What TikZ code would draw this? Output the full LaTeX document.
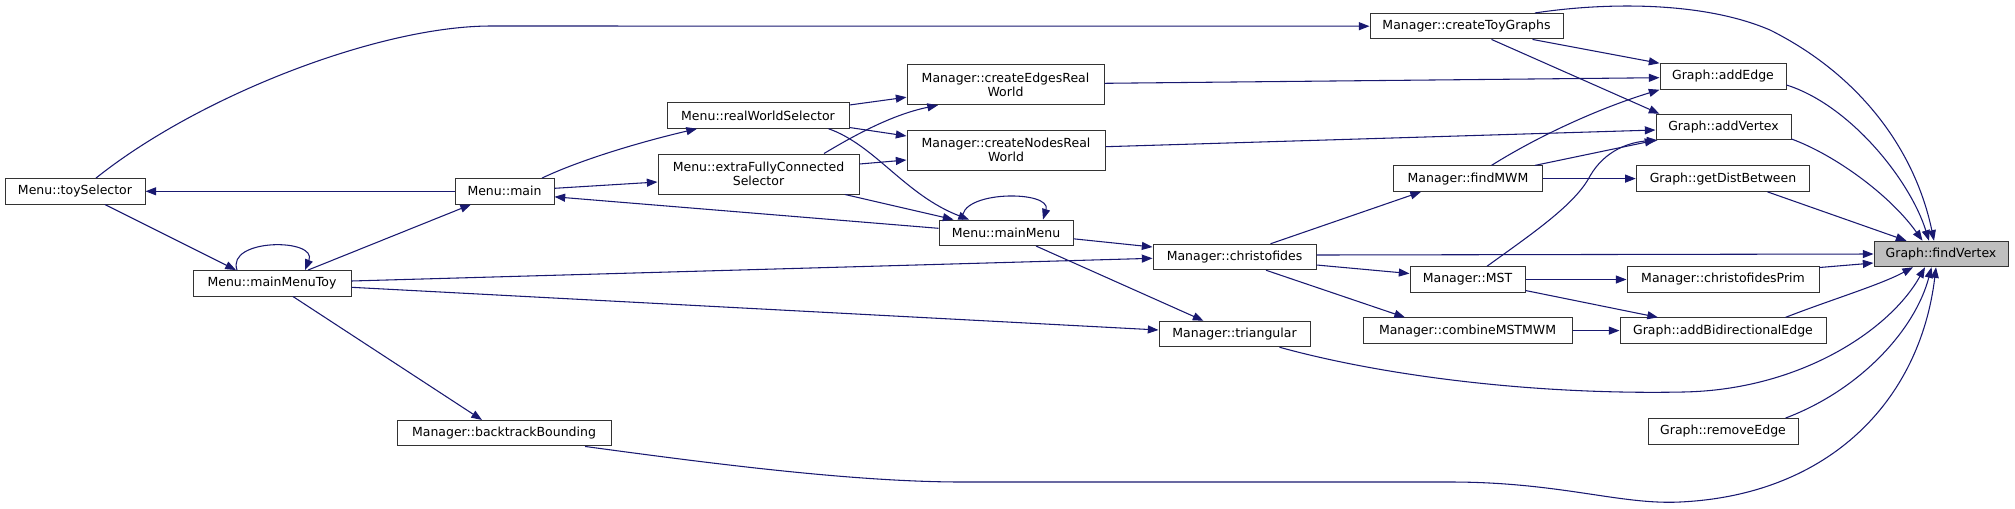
\documentclass[tikz,border=0pt]{standalone}
\usepackage{fontspec}
\setmainfont{DejaVu Sans}
\usetikzlibrary{arrows.meta}
\definecolor{edgec}{HTML}{191970}
\definecolor{boxc}{HTML}{333333}
\begin{document}
\begin{tikzpicture}[x=0.75pt,y=-0.75pt,
  box/.style={draw=boxc,line width=0.75pt,fill=white,inner sep=0pt,minimum height=19.1pt,
    font=\fontsize{9.375}{10.2}\selectfont,align=center},
  box2/.style={box,minimum height=30pt},
  e/.style={draw=edgec,line width=0.8pt,-{Triangle[length=8pt,width=6pt]}}]
\useasboundingbox (0,0) rectangle (2015,508);
% nodes
\node[box,minimum width=105pt] (toy) at (75,191.3) {Menu::toySelector};
\node[box,minimum width=74.25pt] (main) at (504.5,191.3) {Menu::main};
\node[box,minimum width=118.5pt] (mmt) at (272,283.3) {Menu::mainMenuToy};
\node[box,minimum width=160.5pt] (bb) at (504,433.2) {Manager::backtrackBounding};
\node[box,minimum width=136.5pt] (rws) at (758,115.5) {Menu::realWorldSelector};
\node[box2,minimum width=150.75pt] (efc) at (758.5,174) {Menu::extraFullyConnected\\Selector};
\node[box,minimum width=100.5pt] (mm) at (1006,232.8) {Menu::mainMenu};
\node[box2,minimum width=147.75pt] (cerw) at (1005.5,84.7) {Manager::createEdgesReal\\World};
\node[box2,minimum width=148.5pt] (cnrw) at (1006,150) {Manager::createNodesReal\\World};
\node[box,minimum width=122.25pt] (chr) at (1234.5,257) {Manager::christofides};
\node[box,minimum width=113.25pt] (tri) at (1234.5,334) {Manager::triangular};
\node[box,minimum width=144.75pt] (ctg) at (1466.5,26.2) {Manager::createToyGraphs};
\node[box,minimum width=111.4pt] (mwm) at (1468,178.6) {Manager::findMWM};
\node[box,minimum width=86.25pt] (mst) at (1467.5,279.5) {Manager::MST};
\node[box,minimum width=156.75pt] (cmb) at (1467.5,330.6) {Manager::combineMSTMWM};
\node[box,minimum width=94.5pt] (ae) at (1723,76.5) {Graph::addEdge};
\node[box,minimum width=101.25pt] (av) at (1723.5,127) {Graph::addVertex};
\node[box,minimum width=130.1pt] (gdb) at (1723,178.6) {Graph::getDistBetween};
\node[box,minimum width=144pt] (cp) at (1723,279.5) {Manager::christofidesPrim};
\node[box,minimum width=154.5pt] (abe) at (1723,330.6) {Graph::addBidirectionalEdge};
\node[box,minimum width=112.5pt] (re) at (1723,431.3) {Graph::removeEdge};
\node[box,minimum width=100.5pt,fill=black!25] (fv) at (1941,254) {Graph::findVertex};
% edges
\draw[e] (main.west) -- (toy.east);
\draw[e] ([shift={(21,0)}]toy.north) .. controls (200,95) and (380,26) .. (491,26) -- (ctg.west);
\draw[e] ([shift={(30,0)}]toy.south) -- ([shift={(-36,0)}]mmt.north);
\draw[e] ([shift={(-35,0)}]mmt.north) .. controls (226,238) and (318,238) .. ([shift={(33,0)}]mmt.north);
\draw[e] ([shift={(36,0)}]mmt.north) -- ([shift={(-33.5,0)}]main.south);
\draw[e] ([shift={(37.5,0)}]main.north) .. controls (580,160) and (640,142) .. ([shift={(-61,0)}]rws.south);
\draw[e] ([shift={(0,-3)}]main.east) -- ([shift={(0,8)}]efc.west);
\draw[e] ([shift={(0,-4.5)}]mm.west) -- ([shift={(0,5.5)}]main.east);
\draw[e] ([shift={(0,-10.5)}]rws.east) -- ([shift={(0,12.5)}]cerw.west);
\draw[e] ([shift={(0,12)}]rws.east) -- ([shift={(0,-14)}]cnrw.west);
\draw[e] ([shift={(70.5,0)}]rws.south) .. controls (875,145) and (905,195) .. ([shift={(-37,0)}]mm.north);
\draw[e] ([shift={(65.5,0)}]efc.north) .. controls (850,138) and (890,115) .. ([shift={(-67.5,0)}]cerw.south);
\draw[e] ([shift={(0,-10)}]efc.east) -- ([shift={(0,10)}]cnrw.west);
\draw[e] ([shift={(86.5,0)}]efc.south) -- ([shift={(-52.5,0)}]mm.north);
\draw[e] ([shift={(-43.5,0)}]mm.north) .. controls (958,190) and (1052,190) .. ([shift={(37,0)}]mm.north);
\draw[e] ([shift={(0,6)}]mm.east) -- ([shift={(0,-10)}]chr.west);
\draw[e] ([shift={(30,0)}]mm.south) -- ([shift={(-31,0)}]tri.north);
\draw[e] ([shift={(0,-2.3)}]mmt.east) -- ([shift={(0,1.3)}]chr.west);
\draw[e] ([shift={(0,4)}]mmt.east) -- ([shift={(0,-4)}]tri.west);
\draw[e] ([shift={(21,0)}]mmt.south) -- ([shift={(-22,0)}]bb.north);
\draw[e] ([shift={(68.5,0)}]ctg.north) .. controls (1600,3) and (1700,0) .. (1770,30) .. controls (1860,75) and (1915,150) .. ([shift={(-7,0)}]fv.north);
\draw[e] ([shift={(66,0)}]ctg.south) -- (ae.north west);
\draw[e] ([shift={(25,0)}]ctg.south) -- ([shift={(4,0)}]av.north west);
\draw[e] ([shift={(0,-1.4)}]cerw.east) -- ([shift={(0,1.2)}]ae.west);
\draw[e] ([shift={(0,-3.3)}]cnrw.east) -- ([shift={(0,3)}]av.west);
\draw[e] ([shift={(23.5,0)}]mwm.north) .. controls (1540,135) and (1600,108) .. (ae.south west);
\draw[e] ([shift={(67,0)}]mwm.north) -- (av.south west);
\draw[e] ([shift={(19.5,0)}]mst.north) .. controls (1530,235) and (1575,205) .. (1590,176) .. controls (1605,150) and (1630,142) .. ([shift={(2,0)}]av.south west);
\draw[e] (mwm.east) -- (gdb.west);
\draw[e] ([shift={(36,0)}]chr.north) -- ([shift={(-47,0)}]mwm.south);
\draw[e] ([shift={(0,-2)}]chr.east) -- (fv.west);
\draw[e] ([shift={(0,8)}]chr.east) -- ([shift={(0,-6)}]mst.west);
\draw[e] ([shift={(31.5,0)}]chr.south) -- ([shift={(-62.5,0)}]cmb.north);
\draw[e] ([shift={(0,8.5)}]ae.east) .. controls (1850,105) and (1910,180) .. ([shift={(-12,0)}]fv.north);
\draw[e] ([shift={(0,12)}]av.east) .. controls (1835,155) and (1890,195) .. ([shift={(-18.5,0)}]fv.north);
\draw[e] ([shift={(44.4,0)}]gdb.south) -- ([shift={(-34.5,0)}]fv.north);
\draw[e] ([shift={(0,-12)}]cp.east) -- ([shift={(0,9)}]fv.west);
\draw[e] (mst.east) -- (cp.west);
\draw[e] ([shift={(0,11)}]mst.east) -- ([shift={(-65,0)}]abe.north);
\draw[e] (cmb.east) -- (abe.west);
\draw[e] ([shift={(62.5,0)}]abe.north) .. controls (1830,300) and (1880,285) .. ([shift={(-28,0)}]fv.south);
\draw[e] ([shift={(45,0)}]tri.south) .. controls (1380,375) and (1530,395) .. (1683,392) .. controls (1800,390) and (1890,330) .. ([shift={(-16,0)}]fv.south);
\draw[e] ([shift={(62.5,0)}]re.north) .. controls (1860,390) and (1915,330) .. ([shift={(-9.5,0)}]fv.south);
\draw[e] ([shift={(81,0)}]bb.south) .. controls (700,462) and (850,482) .. (962,482) -- (1450,482) .. controls (1560,482) and (1620,505) .. (1680,502) .. controls (1830,495) and (1920,400) .. ([shift={(-5,0)}]fv.south);
\end{tikzpicture}
\end{document}
